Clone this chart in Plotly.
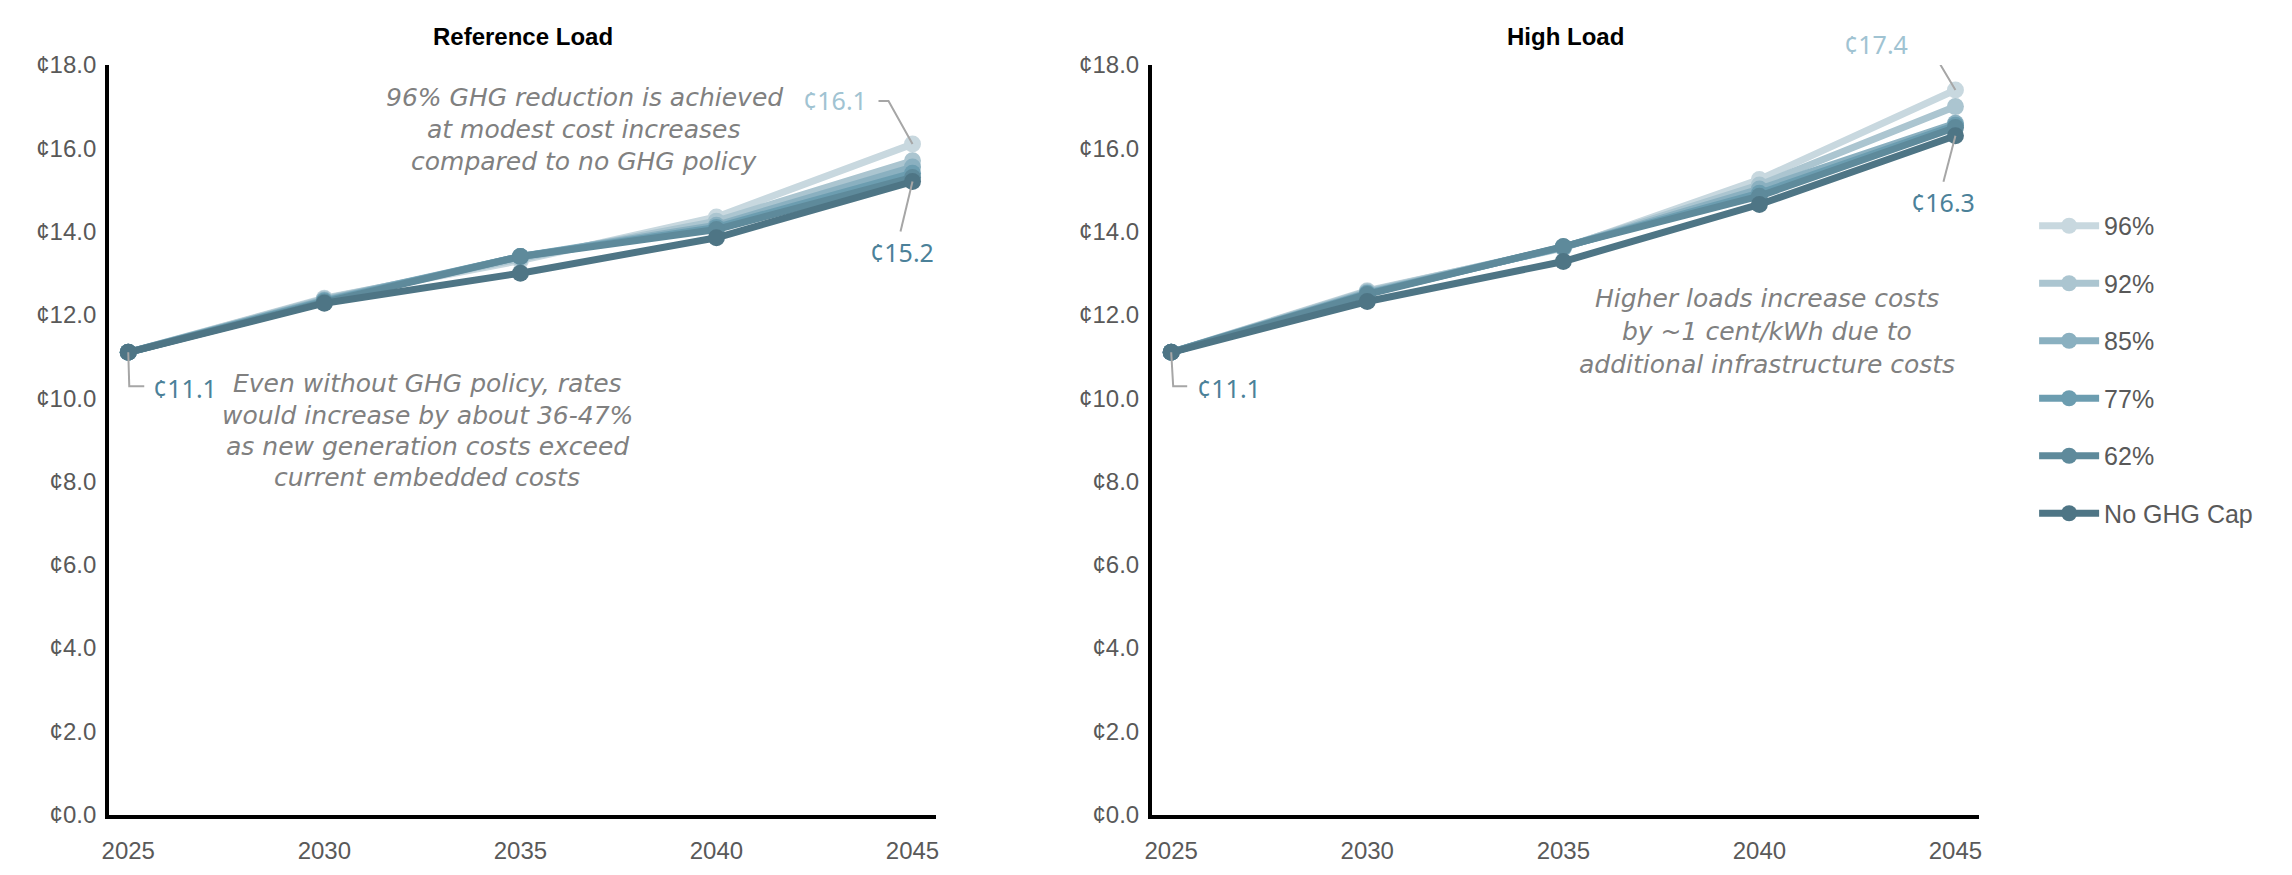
import plotly.graph_objects as go

# ---- data -------------------------------------------------------------
years = [2025, 2030, 2035, 2040, 2045]
series_names = ["96%", "92%", "85%", "77%", "62%", "No GHG Cap"]
series_colors = ["#C8D8DF", "#ABC5D0", "#8AB0C0", "#6C9DB0", "#5E8A9B", "#4E7585"]

# retail rate, cents per kWh
reference_load = {
    "96%":        [11.1, 12.40, 13.30, 14.35, 16.1],
    "92%":        [11.1, 12.38, 13.35, 14.25, 15.7],
    "85%":        [11.1, 12.35, 13.40, 14.15, 15.55],
    "77%":        [11.1, 12.33, 13.40, 14.10, 15.4],
    "62%":        [11.1, 12.30, 13.40, 14.05, 15.3],
    "No GHG Cap": [11.1, 12.28, 13.00, 13.85, 15.2],
}
high_load = {
    "96%":        [11.1, 12.58, 13.60, 15.25, 17.4],
    "92%":        [11.1, 12.56, 13.62, 15.12, 17.0],
    "85%":        [11.1, 12.53, 13.62, 15.02, 16.6],
    "77%":        [11.1, 12.51, 13.63, 14.92, 16.55],
    "62%":        [11.1, 12.49, 13.64, 14.85, 16.5],
    "No GHG Cap": [11.1, 12.32, 13.28, 14.65, 16.3],
}
panel_titles = ["Reference Load", "High Load"]
y_ticks = [0, 2, 4, 6, 8, 10, 12, 14, 16, 18]
y_tick_text = ["\u00a2%.1f" % v for v in y_ticks]

W, H = 2292, 875


def px_x(p):
    return p / W


def px_y(p):
    return 1 - p / H


fig = go.Figure()

panels = [(reference_load, "x", "y"), (high_load, "x2", "y2")]
for pi, (data, xa, ya) in enumerate(panels):
    for name, color in zip(series_names, series_colors):
        fig.add_trace(go.Scatter(
            x=years, y=data[name], name=name, mode="lines+markers",
            line=dict(color=color, width=7),
            marker=dict(color=color, size=17),
            xaxis=xa, yaxis=ya,
            legendgroup=name, showlegend=(pi == 0),
            hoverinfo="skip",
        ))

tick_font = dict(family="Liberation Sans, Arial, sans-serif", size=24, color="#595959")
common_x = dict(range=[2024.51, 2045.61], tickvals=years, showgrid=False, zeroline=False,
                showline=True, linecolor="#000000", linewidth=4, ticks="",
                tickfont=tick_font, ticklabelstandoff=12, fixedrange=True)
common_y = dict(range=[0, 18], tickvals=y_ticks, ticktext=y_tick_text, showgrid=False,
                zeroline=False, showline=True, linecolor="#000000", linewidth=4, ticks="",
                tickfont=tick_font, ticklabelstandoff=4)

y_dom = [px_y(826), px_y(52.6)]
fig.update_layout(
    width=W, height=H,
    margin=dict(l=0, r=0, t=0, b=0),
    paper_bgcolor="white", plot_bgcolor="white",
    xaxis=dict(domain=[px_x(102.5), px_x(933.5)], anchor="y", **common_x),
    yaxis=dict(domain=y_dom, anchor="x", **common_y),
    xaxis2=dict(domain=[px_x(1150), px_x(1981)], anchor="y2", **common_x),
    yaxis2=dict(domain=y_dom, anchor="x2", **common_y),
    legend=dict(x=px_x(2036), y=px_y(195), xanchor="left", yanchor="top",
                font=dict(family="Liberation Sans, Arial, sans-serif", size=25, color="#595959"),
                traceorder="grouped", tracegroupgap=22, itemwidth=60,
                bgcolor="rgba(0,0,0,0)"),
    showlegend=True,
)

annotations = []
# panel titles
for title, xa in zip(panel_titles, ["x", "x2"]):
    annotations.append(dict(text="<b>%s</b>" % title, xref="%s domain" % xa, yref="paper",
                            x=0.5, y=px_y(23), yanchor="middle", showarrow=False,
                            font=dict(family="Liberation Sans, Arial, sans-serif", size=24, color="#000000")))

# value call-outs: (xaxis, series, year index, colour, xshift, yshift, leader path in px)
light_label = "#A0C3D2"
dark_label = "#4B8199"
callouts = [
    ("x", reference_load, "96%", 4, light_label, -78, 44, "M0,0 L-24,43 L-34,43"),
    ("x", reference_load, "No GHG Cap", 4, dark_label, -11, -70, "M0,0 L-12,-50"),
    ("x", reference_load, "No GHG Cap", 0, dark_label, 57, -36, "M0,0 L1,-34 L16,-34"),
    ("x2", high_load, "96%", 4, light_label, -79, 46, "M0,0 L-25,42 L-37,42"),
    ("x2", high_load, "No GHG Cap", 4, dark_label, -12, -66, "M0,0 L-12,-46"),
    ("x2", high_load, "No GHG Cap", 0, dark_label, 58, -36, "M0,0 L2,-34 L16,-34"),
]
shapes = []
for xa, data, name, idx, col, dx, dy, path in callouts:
    ya = "y" if xa == "x" else "y2"
    val = data[name][idx]
    annotations.append(dict(text="\u00a2%.1f" % val, x=years[idx], y=val, xref=xa, yref=ya,
                            xshift=dx, yshift=dy, showarrow=False,
                            font=dict(family="Noto Sans, sans-serif", size=25, color=col)))
    shapes.append(dict(type="path", xref=xa, yref=ya, xsizemode="pixel", ysizemode="pixel",
                       xanchor=years[idx], yanchor=val, path=path,
                       line=dict(color="#A6A6A6", width=2), layer="above"))

# commentary text
note_font = dict(family="DejaVu Sans, sans-serif", size=25, color="#808080")
notes = [
    (580, [86, 119, 152], ["96% GHG reduction is achieved", "at modest cost increases",
                           "compared to no GHG policy"]),
    (422, [381, 414, 446, 478], ["Even without GHG policy, rates", "would increase by about 36-47%",
                                 "as new generation costs exceed", "current embedded costs"]),
    (1768, [294, 328, 362], ["Higher loads increase costs", "by ~1 cent/kWh due to",
                             "additional infrastructure costs"]),
]
for cx, ys, lines in notes:
    for yy, line in zip(ys, lines):
        annotations.append(dict(text="<i>%s</i>" % line, x=px_x(cx), y=px_y(yy),
                                xref="paper", yref="paper", showarrow=False,
                                xanchor="center", yanchor="middle", font=note_font))

fig.update_layout(annotations=annotations, shapes=shapes)
fig.write_html("out.html")
